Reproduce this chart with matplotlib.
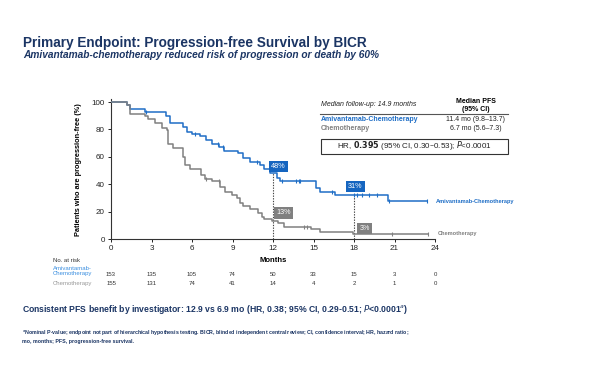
import matplotlib
matplotlib.use("Agg")
import matplotlib.pyplot as plt
import matplotlib.transforms as mtransforms
from matplotlib.patches import Rectangle
from matplotlib.lines import Line2D

# Kaplan-Meier steps (months, % progression-free)
ami_t = [0, 1.16, 1.4, 2.5, 4.1, 4.4, 5.35, 5.6, 6.0, 6.6, 7.0, 7.45, 8.0, 8.4, 9.4,
         9.8, 10.3, 11.0, 11.3, 11.8, 12.3, 12.5, 15.2, 15.5, 16.6, 20.5]
ami_s = [100, 98, 95, 93, 90, 85, 82, 78, 77, 75, 72, 69, 67, 64.5, 62.5,
         59, 56.5, 54, 51, 48, 44.5, 42, 37, 34, 32, 27.5]
ami_end = 23.4
ami_cens = [2.6, 6.2, 7.9, 8.3, 10.8, 12.7, 13.7, 13.9, 14.0, 16.4, 18.0, 18.2,
            18.6, 19.1, 19.7, 20.6, 23.4]

chemo_t = [0, 1.16, 1.4, 2.5, 2.77, 3.26, 3.75, 4.12, 4.25, 4.6, 5.35, 5.5, 5.85,
           6.7, 6.96, 7.46, 8.07, 8.44, 8.94, 9.3, 9.55, 9.8, 10.3, 10.9, 11.16, 11.3,
           11.9, 12.4, 12.8, 14.8, 15.5, 17.9]
chemo_s = [100, 98, 91, 90, 87.5, 84.5, 81, 79.5, 69, 66.5, 60, 54, 51,
           46.5, 43.5, 42, 38, 34.5, 32, 30, 26, 24, 22, 19, 16, 14.5,
           13.5, 11.5, 9, 7, 5, 3.3]
chemo_end = 23.5
chemo_cens = [7.0, 8.0, 14.3, 14.5, 20.8, 23.5]

landmarks = [12, 18]
ami_landmark = [48, 31]
chemo_landmark = [13, 3]

months = [0, 3, 6, 9, 12, 15, 18, 21, 24]
ami_risk = [153, 135, 105, 74, 50, 33, 15, 3, 0]
chemo_risk = [155, 131, 74, 41, 14, 4, 2, 1, 0]

BLUE = "#1f6ec6"
BLUE_BOX = "#1565c0"
BLUE_LIGHT = "#3b8fe0"
GREY = "#808080"
NAVY = "#1b3564"
NARROW = ["Liberation Sans Narrow", "Liberation Sans", "DejaVu Sans"]
SANS = ["Liberation Sans", "DejaVu Sans"]

plt.rcParams["font.family"] = SANS

W, H = 600, 365
fig = plt.figure(figsize=(6, 3.65), dpi=100)


def px(x, y):
    return x / W, 1 - y / H


ax = fig.add_axes([111 / W, 1 - 239 / H, 324 / W, 139.7 / H])


def km_line(t, s, end):
    return list(t) + [end], list(s) + [s[-1]]


def surv_at(t, s, when):
    val = s[0]
    for ti, si in zip(t, s):
        if ti <= when:
            val = si
    return val


xs, ys = km_line(ami_t, ami_s, ami_end)
ax.step(xs, ys, where="post", color=BLUE, lw=1.1, zorder=3)
ax.plot(ami_cens, [surv_at(ami_t, ami_s, c) for c in ami_cens], ls="none",
        marker="|", ms=3.5, mew=0.8, color=BLUE, zorder=3)
xs, ys = km_line(chemo_t, chemo_s, chemo_end)
ax.step(xs, ys, where="post", color=GREY, lw=1.1, zorder=3)
ax.plot(chemo_cens, [surv_at(chemo_t, chemo_s, c) for c in chemo_cens], ls="none",
        marker="|", ms=3.5, mew=0.8, color=GREY, zorder=3)

# landmark dotted lines and percentage boxes
for m, a, c in zip(landmarks, ami_landmark, chemo_landmark):
    ax.plot([m, m], [0, a], ls=(0, (1.2, 1.2)), color="#444444", lw=0.8, zorder=2)
box_kw = dict(color="white", fontsize=5.2, ha="center", va="center", zorder=5)
ax.text(landmarks[0] + 0.4, ami_landmark[0] + 5, f"{ami_landmark[0]}%",
        bbox=dict(boxstyle="square,pad=0.3", fc=BLUE_BOX, ec="none"), **box_kw)
ax.text(landmarks[0] + 0.8, chemo_landmark[0] + 6, f"{chemo_landmark[0]}%",
        bbox=dict(boxstyle="square,pad=0.3", fc=GREY, ec="none"), **box_kw)
ax.text(landmarks[1] + 0.1, ami_landmark[1] + 7.5, f"{ami_landmark[1]}%",
        bbox=dict(boxstyle="square,pad=0.3", fc=BLUE_BOX, ec="none"), **box_kw)
ax.text(landmarks[1] + 0.8, chemo_landmark[1] + 4.5, f"{chemo_landmark[1]}%",
        bbox=dict(boxstyle="square,pad=0.3", fc=GREY, ec="none"), **box_kw)

ax.text(ami_end + 0.7, ami_s[-1], "Amivantamab-Chemotherapy", color=BLUE,
        fontsize=4.1, fontweight="bold", va="center", clip_on=False)
ax.text(chemo_end + 0.7, chemo_s[-1] + 0.5, "Chemotherapy", color=GREY,
        fontsize=4.1, fontweight="bold", va="center", clip_on=False)

ax.set_xlim(0, 24)
ax.set_ylim(0, 102)
ax.set_xticks(months)
ax.set_yticks([0, 20, 40, 60, 80, 100])
ax.tick_params(labelsize=5.8, length=2.5, width=0.7, pad=2, colors="#222222")
for side in ("top", "right"):
    ax.spines[side].set_visible(False)
for side in ("left", "bottom"):
    ax.spines[side].set_linewidth(0.8)
    ax.spines[side].set_color("#333333")
ax.set_ylabel("Patients who are progression-free (%)", fontsize=5.3,
              fontweight="bold", labelpad=7)

# number at risk table
risk_tr = mtransforms.blended_transform_factory(ax.transData, fig.transFigure)
for m, a, c in zip(months, ami_risk, chemo_risk):
    ax.text(m, px(0, 275)[1], str(a), transform=risk_tr, fontsize=4.3,
            ha="center", va="center", color="#333333", clip_on=False)
    ax.text(m, px(0, 283.5)[1], str(c), transform=risk_tr, fontsize=4.3,
            ha="center", va="center", color="#333333", clip_on=False)
fig.text(*px(53, 260), "No. at risk", fontsize=4.3, va="center", color="#333333")
fig.text(*px(53, 271.5), "Amivantamab-\nChemotherapy", fontsize=4.3, va="center",
         color=BLUE_LIGHT, linespacing=1.0)
fig.text(*px(53, 283.5), "Chemotherapy", fontsize=4.3, va="center", color="#999999")
fig.text(*px(273, 261), "Months", fontsize=5.5, fontweight="bold", ha="center",
         va="center")

# median PFS table
fig.text(*px(321, 105), "Median follow-up: 14.9 months", fontsize=5, style="italic",
         va="center", color="#222222")
fig.text(*px(476, 105.5), "Median PFS\n(95% CI)", fontsize=5, fontweight="bold",
         ha="center", va="center", linespacing=1.1)
fig.add_artist(Line2D([px(320, 0)[0], px(508, 0)[0]], [px(0, 114)[1]] * 2,
                      color="#555555", lw=0.8))
fig.text(*px(321, 119.5), "Amivantamab-Chemotherapy", fontsize=5, fontweight="bold",
         va="center", color=BLUE)
fig.text(*px(476, 119.5), "11.4 mo (9.8–13.7)", fontsize=5, ha="center", va="center",
         color="#222222")
fig.text(*px(321, 129), "Chemotherapy", fontsize=5, fontweight="bold", va="center",
         color=GREY)
fig.text(*px(476, 129), "6.7 mo (5.6–7.3)", fontsize=5, ha="center", va="center",
         color="#222222")
x0, y0 = px(321, 153.5)
x1, y1 = px(508, 138.5)
fig.add_artist(Rectangle((x0, y0), x1 - x0, y1 - y0, transform=fig.transFigure,
                         fill=False, ec="#333333", lw=0.8))
fig.text(*px(414.5, 146), r"HR, $\bf{0.395}$ (95% CI, 0.30–0.53); $\it{P}$<0.0001",
         fontsize=5.8, ha="center", va="center", color="#222222")

# headings and footnotes
fig.text(*px(23, 46.5), "Primary Endpoint: Progression-free Survival by BICR",
         family=NARROW, fontsize=9.85, fontweight="bold", color=NAVY, va="baseline")
fig.text(*px(23, 58.5), "Amivantamab-chemotherapy reduced risk of progression or death by 60%",
         fontsize=7.25, fontweight="bold", style="italic", color=NAVY, va="baseline")
fig.text(*px(22, 310),
         r"Consistent PFS benefit by investigator: 12.9 vs 6.9 mo (HR, 0.38; 95% CI, "
         r"0.29-0.51; $\it{P}$<0.0001$^{a}$)",
         family=NARROW, fontsize=6.25, fontweight="bold", color=NAVY, va="center")
fig.text(*px(22, 336),
         "$^{a}$Nominal P-value; endpoint not part of hierarchical hypothesis testing. "
         "BICR, blinded independent central review; CI, confidence interval; HR, hazard ratio;\n"
         "mo, months; PFS, progression-free survival.",
         family=NARROW, fontsize=3.8, fontweight="bold", color=NAVY, va="center",
         linespacing=1.3)

fig.savefig("out.png", dpi=100)
